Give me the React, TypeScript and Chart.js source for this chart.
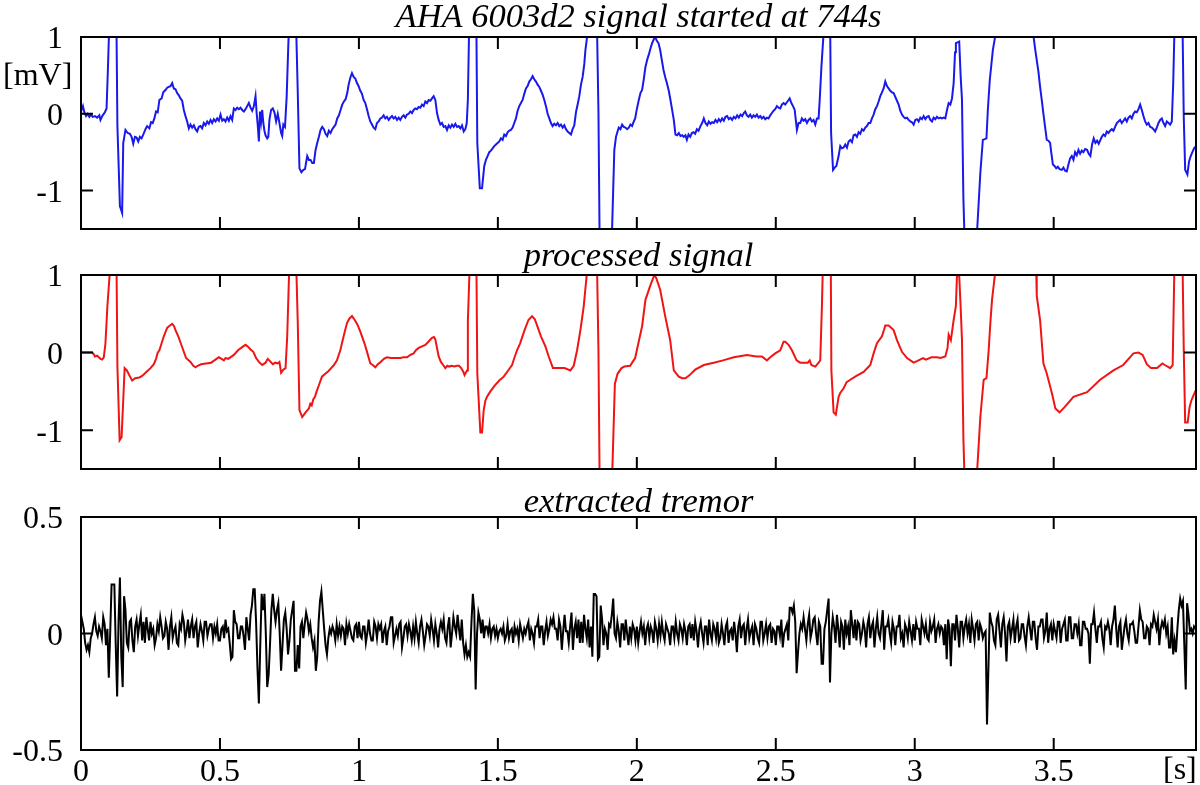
import React, { useEffect, useRef } from 'react';
import { Chart, registerables } from 'chart.js';

Chart.register(...registerables);

// ---------- data ----------
const timeTicks = [0, 0.5, 1, 1.5, 2, 2.5, 3, 3.5];
const ecgTicks = [-1, 0, 1];
const tremorTicks = [-0.5, 0, 0.5];
const timeMax = 4.012;

const rawTitle = 'AHA 6003d2 signal started at 744s';
const cleanTitle = 'processed signal';
const tremorTitle = 'extracted tremor';

// raw ECG [time s, mV]
const rawEcg: [number, number][] = [
  [0,0.03],[0.007,0.1],[0.012,0.02],[0.018,-0.03],[0.024,0.0],[0.03,-0.04],[0.036,-0.01],[0.042,-0.04],[0.05,-0.03],[0.058,-0.05],
  [0.066,-0.02],[0.07,-0.08],[0.078,-0.02],[0.086,0.02],[0.092,0.07],[0.097,0.6],[0.102,1.2],[0.108,2.2],[0.12,2.6],[0.126,1.5],
  [0.128,1.0],[0.131,-0.16],[0.14,-1.2],[0.148,-1.29],[0.152,-0.38],[0.16,-0.21],[0.168,-0.25],[0.176,-0.26],[0.182,-0.3],[0.188,-0.39],
  [0.194,-0.3],[0.2,-0.31],[0.206,-0.36],[0.212,-0.3],[0.218,-0.32],[0.224,-0.27],[0.232,-0.2],[0.238,-0.16],[0.246,-0.19],[0.252,-0.11],
  [0.258,-0.12],[0.264,-0.06],[0.27,0.03],[0.276,0.02],[0.282,0.18],[0.29,0.2],[0.296,0.28],[0.304,0.31],[0.31,0.34],[0.316,0.35],
  [0.322,0.36],[0.328,0.4],[0.334,0.33],[0.34,0.32],[0.346,0.27],[0.352,0.24],[0.358,0.2],[0.364,0.17],[0.37,0.05],[0.376,-0.03],
  [0.382,-0.1],[0.388,-0.19],[0.394,-0.14],[0.4,-0.18],[0.406,-0.15],[0.412,-0.2],[0.418,-0.23],[0.424,-0.17],[0.43,-0.16],[0.436,-0.19],
  [0.442,-0.12],[0.448,-0.15],[0.454,-0.1],[0.46,-0.13],[0.466,-0.08],[0.472,-0.12],[0.478,-0.07],[0.484,-0.1],[0.49,-0.06],[0.496,-0.09],
  [0.502,-0.01],[0.508,-0.09],[0.514,-0.07],[0.52,-0.1],[0.526,-0.05],[0.532,-0.09],[0.538,-0.03],[0.544,-0.08],[0.55,0.07],[0.556,0.05],
  [0.562,0.08],[0.568,0.06],[0.574,0.08],[0.58,0.05],[0.586,0.03],[0.592,0.06],[0.598,0.1],[0.604,0.14],[0.61,0.08],[0.616,0.04],
  [0.622,0.1],[0.628,0.23],[0.632,0.01],[0.636,-0.15],[0.64,-0.36],[0.644,0.03],[0.648,-0.1],[0.652,0.05],[0.656,-0.12],[0.66,-0.22],
  [0.664,-0.28],[0.67,-0.32],[0.674,-0.3],[0.678,-0.08],[0.684,0.05],[0.69,0.07],[0.696,0.02],[0.702,-0.1],[0.708,0.0],[0.714,-0.12],
  [0.72,-0.25],[0.724,-0.29],[0.728,-0.14],[0.734,-0.17],[0.74,0.22],[0.746,0.9],[0.75,1.3],[0.76,2.3],[0.77,1.8],[0.775,1.0],
  [0.78,0.27],[0.786,-0.71],[0.793,-0.76],[0.8,-0.73],[0.806,-0.72],[0.814,-0.55],[0.82,-0.6],[0.826,-0.6],[0.832,-0.64],[0.838,-0.64],
  [0.844,-0.47],[0.85,-0.38],[0.856,-0.3],[0.862,-0.21],[0.868,-0.17],[0.874,-0.2],[0.88,-0.26],[0.886,-0.29],[0.892,-0.22],[0.898,-0.25],
  [0.904,-0.2],[0.91,-0.17],[0.916,-0.14],[0.922,-0.06],[0.928,-0.02],[0.934,0.05],[0.94,0.12],[0.946,0.16],[0.952,0.19],[0.958,0.27],
  [0.963,0.38],[0.969,0.47],[0.975,0.53],[0.981,0.48],[0.987,0.46],[0.993,0.4],[0.999,0.36],[1.005,0.3],[1.011,0.26],[1.017,0.18],
  [1.023,0.14],[1.029,0.06],[1.035,-0.03],[1.041,-0.1],[1.047,-0.14],[1.053,-0.18],[1.059,-0.2],[1.065,-0.12],[1.071,-0.1],[1.077,-0.06],
  [1.083,-0.05],[1.089,-0.02],[1.095,-0.06],[1.101,-0.04],[1.107,-0.08],[1.113,-0.05],[1.119,-0.03],[1.125,-0.06],[1.131,-0.04],[1.137,-0.08],
  [1.143,-0.05],[1.149,-0.08],[1.155,-0.04],[1.161,-0.02],[1.167,-0.05],[1.173,-0.01],[1.179,0.0],[1.185,0.03],[1.191,0.01],[1.197,0.05],
  [1.203,0.07],[1.209,0.06],[1.215,0.09],[1.221,0.08],[1.227,0.12],[1.233,0.1],[1.239,0.16],[1.245,0.14],[1.251,0.18],[1.257,0.17],
  [1.263,0.2],[1.269,0.23],[1.275,0.18],[1.281,0.01],[1.287,-0.08],[1.293,-0.14],[1.299,-0.12],[1.305,-0.17],[1.311,-0.16],[1.317,-0.21],
  [1.323,-0.15],[1.329,-0.18],[1.335,-0.14],[1.341,-0.17],[1.347,-0.13],[1.353,-0.17],[1.359,-0.16],[1.365,-0.19],[1.371,-0.15],[1.377,-0.23],
  [1.383,-0.2],[1.388,-0.12],[1.392,0.18],[1.396,1.0],[1.402,2.0],[1.41,2.4],[1.418,1.6],[1.423,1.0],[1.426,-0.38],[1.435,-0.97],
  [1.443,-0.97],[1.451,-0.68],[1.457,-0.6],[1.463,-0.55],[1.469,-0.5],[1.475,-0.48],[1.481,-0.45],[1.487,-0.42],[1.493,-0.4],[1.499,-0.38],
  [1.505,-0.36],[1.511,-0.32],[1.517,-0.34],[1.523,-0.27],[1.529,-0.29],[1.535,-0.24],[1.541,-0.22],[1.547,-0.21],[1.553,-0.18],[1.559,-0.12],
  [1.565,-0.06],[1.571,0.04],[1.577,0.1],[1.583,0.14],[1.589,0.18],[1.595,0.26],[1.601,0.33],[1.607,0.36],[1.613,0.42],[1.619,0.45],
  [1.625,0.49],[1.631,0.45],[1.637,0.42],[1.643,0.38],[1.649,0.35],[1.655,0.3],[1.661,0.25],[1.667,0.18],[1.673,0.1],[1.679,0.0],
  [1.685,-0.06],[1.691,-0.12],[1.697,-0.16],[1.703,-0.13],[1.709,-0.15],[1.715,-0.12],[1.721,-0.16],[1.727,-0.14],[1.733,-0.18],[1.739,-0.15],
  [1.745,-0.2],[1.751,-0.23],[1.757,-0.25],[1.763,-0.27],[1.769,-0.2],[1.775,-0.15],[1.781,0.02],[1.787,0.12],[1.793,0.23],[1.799,0.38],
  [1.805,0.48],[1.811,0.65],[1.815,0.83],[1.821,1.0],[1.83,2.0],[1.845,2.4],[1.855,1.5],[1.862,0.0],[1.866,-1.6],[1.872,-2.3],
  [1.895,-2.6],[1.907,-2.0],[1.911,-1.5],[1.919,-0.47],[1.925,-0.3],[1.929,-0.25],[1.935,-0.18],[1.941,-0.2],[1.947,-0.14],[1.953,-0.17],
  [1.959,-0.18],[1.965,-0.2],[1.971,-0.18],[1.977,-0.14],[1.983,-0.16],[1.989,-0.1],[1.994,-0.06],[2.0,0.06],[2.007,0.18],[2.013,0.27],
  [2.019,0.31],[2.025,0.45],[2.031,0.61],[2.037,0.7],[2.043,0.77],[2.049,0.85],[2.055,0.92],[2.061,0.97],[2.066,1.0],[2.072,0.95],
  [2.078,0.92],[2.084,0.83],[2.09,0.7],[2.096,0.57],[2.102,0.48],[2.108,0.4],[2.115,0.3],[2.121,0.18],[2.127,0.05],[2.133,-0.08],
  [2.139,-0.27],[2.145,-0.28],[2.151,-0.25],[2.157,-0.29],[2.163,-0.28],[2.169,-0.3],[2.175,-0.28],[2.18,-0.34],[2.186,-0.27],[2.192,-0.3],
  [2.198,-0.25],[2.204,-0.24],[2.21,-0.26],[2.216,-0.2],[2.222,-0.22],[2.229,-0.16],[2.235,-0.12],[2.241,-0.06],[2.247,-0.12],[2.253,-0.15],
  [2.259,-0.1],[2.265,-0.13],[2.271,-0.11],[2.277,-0.12],[2.283,-0.08],[2.289,-0.11],[2.295,-0.07],[2.301,-0.1],[2.307,-0.06],[2.313,-0.09],
  [2.319,-0.04],[2.325,-0.03],[2.331,-0.07],[2.337,-0.05],[2.343,-0.08],[2.349,-0.04],[2.355,-0.06],[2.361,-0.02],[2.367,-0.05],[2.373,-0.01],
  [2.379,-0.03],[2.385,0.01],[2.39,0.03],[2.396,-0.02],[2.402,-0.04],[2.408,-0.01],[2.414,-0.05],[2.42,-0.02],[2.426,-0.04],[2.432,-0.01],
  [2.438,-0.05],[2.444,-0.03],[2.45,-0.06],[2.456,-0.04],[2.462,-0.07],[2.468,-0.05],[2.474,-0.06],[2.48,-0.02],[2.486,0.01],[2.492,0.04],
  [2.498,0.06],[2.504,0.1],[2.51,0.08],[2.516,0.07],[2.522,0.12],[2.528,0.14],[2.534,0.12],[2.54,0.15],[2.546,0.18],[2.55,0.2],
  [2.556,0.14],[2.562,0.1],[2.568,0.05],[2.576,-0.21],[2.582,-0.12],[2.588,-0.12],[2.594,-0.06],[2.6,-0.09],[2.606,-0.07],[2.612,-0.12],
  [2.618,-0.08],[2.624,-0.06],[2.63,-0.1],[2.636,-0.08],[2.642,-0.14],[2.648,-0.06],[2.654,-0.06],[2.658,0.18],[2.664,0.6],[2.672,1.05],
  [2.68,2.2],[2.69,1.8],[2.696,1.0],[2.699,-0.25],[2.706,-0.73],[2.712,-0.7],[2.718,-0.68],[2.726,-0.55],[2.732,-0.42],[2.738,-0.45],
  [2.744,-0.44],[2.75,-0.4],[2.756,-0.44],[2.762,-0.36],[2.768,-0.34],[2.774,-0.37],[2.78,-0.28],[2.786,-0.27],[2.792,-0.3],[2.798,-0.24],
  [2.804,-0.26],[2.81,-0.2],[2.816,-0.22],[2.822,-0.18],[2.828,-0.16],[2.834,-0.12],[2.84,-0.12],[2.846,-0.06],[2.852,-0.01],[2.858,0.06],
  [2.864,0.1],[2.87,0.16],[2.876,0.23],[2.882,0.28],[2.888,0.33],[2.894,0.42],[2.9,0.36],[2.906,0.33],[2.912,0.3],[2.918,0.28],
  [2.924,0.27],[2.93,0.22],[2.936,0.17],[2.942,0.12],[2.948,0.04],[2.954,-0.01],[2.96,-0.04],[2.966,-0.06],[2.972,-0.05],[2.978,-0.08],
  [2.984,-0.1],[2.99,-0.11],[2.996,-0.14],[3.002,-0.08],[3.008,-0.07],[3.014,-0.1],[3.02,-0.05],[3.026,-0.07],[3.032,-0.03],[3.038,-0.07],
  [3.044,-0.04],[3.05,-0.03],[3.056,-0.08],[3.062,-0.1],[3.068,-0.05],[3.074,-0.07],[3.08,-0.04],[3.086,-0.06],[3.092,-0.05],[3.098,-0.06],
  [3.104,-0.05],[3.11,-0.06],[3.116,0.05],[3.122,0.14],[3.128,0.12],[3.134,0.2],[3.14,0.4],[3.145,0.8],[3.148,0.92],[3.154,0.93],
  [3.16,0.94],[3.165,0.5],[3.17,0.18],[3.175,-1.1],[3.179,-1.6],[3.185,-2.3],[3.21,-2.6],[3.22,-2.0],[3.224,-1.55],[3.236,-0.77],
  [3.245,-0.34],[3.252,-0.33],[3.258,-0.32],[3.263,0.05],[3.27,0.44],[3.281,0.83],[3.29,1.02],[3.31,1.8],[3.37,2.3],[3.41,1.8],
  [3.427,1.02],[3.433,0.85],[3.439,0.7],[3.445,0.55],[3.451,0.35],[3.457,0.18],[3.463,0.0],[3.469,-0.17],[3.475,-0.34],[3.481,-0.35],
  [3.487,-0.38],[3.491,-0.5],[3.497,-0.66],[3.503,-0.68],[3.509,-0.71],[3.515,-0.69],[3.521,-0.72],[3.529,-0.73],[3.535,-0.7],[3.541,-0.74],
  [3.547,-0.75],[3.553,-0.66],[3.559,-0.58],[3.565,-0.55],[3.571,-0.6],[3.577,-0.5],[3.583,-0.54],[3.589,-0.47],[3.595,-0.52],[3.601,-0.48],
  [3.607,-0.5],[3.613,-0.46],[3.62,-0.47],[3.626,-0.52],[3.632,-0.55],[3.638,-0.4],[3.644,-0.32],[3.65,-0.38],[3.656,-0.35],[3.662,-0.39],
  [3.667,-0.35],[3.673,-0.3],[3.679,-0.27],[3.685,-0.29],[3.691,-0.23],[3.697,-0.25],[3.703,-0.22],[3.709,-0.2],[3.715,-0.22],[3.721,-0.17],
  [3.727,-0.12],[3.733,-0.1],[3.739,-0.08],[3.745,-0.12],[3.751,-0.09],[3.757,-0.06],[3.763,-0.1],[3.769,-0.05],[3.775,-0.03],[3.781,-0.06],
  [3.787,0.0],[3.793,0.03],[3.799,0.02],[3.805,0.06],[3.811,0.12],[3.817,0.05],[3.823,-0.03],[3.829,-0.1],[3.835,-0.14],[3.841,-0.12],
  [3.847,-0.17],[3.853,-0.18],[3.859,-0.2],[3.865,-0.23],[3.871,-0.18],[3.877,-0.12],[3.883,-0.08],[3.889,-0.06],[3.895,-0.12],[3.901,-0.16],
  [3.907,-0.1],[3.913,-0.12],[3.919,-0.14],[3.925,-0.1],[3.93,0.4],[3.934,1.02],[3.945,2.2],[3.958,1.8],[3.964,1.02],[3.968,-0.05],
  [3.973,-0.73],[3.981,-0.79],[3.987,-0.62],[3.993,-0.55],[3.999,-0.5],[4.005,-0.45],[4.012,-0.42],
];

// processed ECG [time s, mV]
const cleanEcg: [number, number][] = [
  [0,0],[0.04,0],[0.046,-0.02],[0.05,-0.05],[0.058,-0.04],[0.064,-0.06],[0.07,-0.08],[0.076,-0.09],[0.082,-0.06],[0.088,0.12],
  [0.095,0.6],[0.104,1.05],[0.112,2.2],[0.122,2.4],[0.128,1.05],[0.131,-0.18],[0.139,-1.13],[0.146,-1.09],[0.152,-0.61],[0.157,-0.2],
  [0.165,-0.23],[0.175,-0.3],[0.184,-0.36],[0.195,-0.33],[0.21,-0.32],[0.22,-0.3],[0.235,-0.25],[0.25,-0.2],[0.262,-0.15],[0.27,-0.08],
  [0.276,0.0],[0.282,0.03],[0.29,0.12],[0.298,0.21],[0.31,0.32],[0.32,0.35],[0.328,0.37],[0.335,0.34],[0.34,0.29],[0.35,0.21],
  [0.358,0.13],[0.368,0.03],[0.378,-0.07],[0.394,-0.12],[0.404,-0.17],[0.412,-0.19],[0.42,-0.17],[0.432,-0.15],[0.45,-0.14],[0.468,-0.13],
  [0.48,-0.1],[0.496,-0.06],[0.506,-0.08],[0.514,-0.1],[0.52,-0.07],[0.53,-0.08],[0.55,-0.03],[0.565,0.03],[0.58,0.07],[0.592,0.1],
  [0.6,0.08],[0.61,0.04],[0.62,0.01],[0.63,-0.07],[0.64,-0.12],[0.652,-0.16],[0.664,-0.13],[0.672,-0.08],[0.68,-0.11],[0.69,-0.15],
  [0.7,-0.13],[0.708,-0.14],[0.714,-0.12],[0.72,-0.26],[0.728,-0.22],[0.736,-0.2],[0.742,0.21],[0.749,1.05],[0.755,2.2],[0.768,2.3],
  [0.775,1.05],[0.78,0.38],[0.786,-0.74],[0.796,-0.83],[0.806,-0.78],[0.815,-0.74],[0.82,-0.72],[0.825,-0.66],[0.83,-0.68],[0.836,-0.6],
  [0.842,-0.57],[0.847,-0.51],[0.855,-0.43],[0.867,-0.31],[0.88,-0.27],[0.89,-0.24],[0.9,-0.2],[0.91,-0.16],[0.921,-0.1],[0.933,0.03],
  [0.945,0.21],[0.957,0.38],[0.966,0.44],[0.975,0.47],[0.985,0.42],[0.995,0.36],[1.005,0.27],[1.02,0.12],[1.03,0.0],[1.041,-0.14],
  [1.05,-0.16],[1.059,-0.19],[1.068,-0.15],[1.078,-0.12],[1.09,-0.08],[1.101,-0.06],[1.115,-0.07],[1.13,-0.07],[1.149,-0.07],[1.16,-0.06],
  [1.173,-0.06],[1.185,-0.03],[1.197,-0.01],[1.205,0.03],[1.215,0.06],[1.227,0.08],[1.239,0.1],[1.25,0.14],[1.263,0.19],[1.27,0.2],
  [1.275,0.17],[1.281,0.06],[1.287,-0.05],[1.295,-0.12],[1.303,-0.16],[1.311,-0.2],[1.318,-0.17],[1.325,-0.18],[1.333,-0.17],[1.343,-0.18],
  [1.353,-0.17],[1.36,-0.17],[1.368,-0.2],[1.376,-0.25],[1.38,-0.29],[1.389,-0.23],[1.392,0.4],[1.398,1.05],[1.405,2.2],[1.418,2.3],
  [1.423,1.05],[1.426,-0.27],[1.437,-1.03],[1.443,-1.03],[1.449,-0.74],[1.455,-0.62],[1.461,-0.57],[1.473,-0.5],[1.49,-0.42],[1.505,-0.36],
  [1.521,-0.31],[1.535,-0.24],[1.551,-0.16],[1.56,-0.06],[1.569,0.03],[1.58,0.12],[1.596,0.29],[1.61,0.42],[1.623,0.47],[1.633,0.43],
  [1.647,0.29],[1.655,0.21],[1.671,0.08],[1.683,-0.05],[1.698,-0.2],[1.72,-0.2],[1.74,-0.2],[1.761,-0.23],[1.773,-0.17],[1.785,0.03],
  [1.797,0.29],[1.809,0.6],[1.817,0.9],[1.821,1.05],[1.83,2.2],[1.845,2.4],[1.855,1.5],[1.862,0.0],[1.866,-1.6],[1.872,-2.3],
  [1.895,-2.6],[1.907,-2.0],[1.912,-1.5],[1.921,-0.4],[1.931,-0.27],[1.945,-0.2],[1.955,-0.18],[1.976,-0.17],[1.985,-0.12],[1.994,-0.07],
  [2.0,0.03],[2.019,0.34],[2.031,0.68],[2.048,0.86],[2.063,1.0],[2.07,0.96],[2.084,0.81],[2.102,0.47],[2.12,0.16],[2.133,-0.23],
  [2.151,-0.31],[2.163,-0.33],[2.175,-0.33],[2.19,-0.29],[2.21,-0.22],[2.241,-0.16],[2.277,-0.13],[2.31,-0.1],[2.349,-0.06],[2.396,-0.03],
  [2.43,-0.05],[2.45,-0.05],[2.468,-0.1],[2.48,-0.06],[2.498,-0.01],[2.516,0.03],[2.528,0.14],[2.534,0.14],[2.546,0.1],[2.558,0.03],
  [2.575,-0.1],[2.588,-0.13],[2.6,-0.13],[2.615,-0.13],[2.622,-0.1],[2.628,-0.16],[2.642,-0.18],[2.652,-0.14],[2.66,-0.1],[2.666,0.6],
  [2.669,1.05],[2.68,2.2],[2.692,2.0],[2.698,1.05],[2.7,-0.23],[2.708,-0.77],[2.716,-0.8],[2.726,-0.57],[2.732,-0.52],[2.744,-0.46],
  [2.755,-0.38],[2.768,-0.35],[2.79,-0.3],[2.816,-0.25],[2.84,-0.16],[2.852,-0.01],[2.864,0.12],[2.882,0.21],[2.89,0.3],[2.894,0.35],
  [2.906,0.35],[2.924,0.29],[2.936,0.16],[2.954,0.01],[2.972,-0.07],[2.996,-0.13],[3.008,-0.11],[3.03,-0.07],[3.04,-0.09],[3.06,-0.06],
  [3.08,-0.06],[3.092,-0.07],[3.11,-0.05],[3.118,0.06],[3.122,0.23],[3.13,0.16],[3.14,0.42],[3.148,0.6],[3.152,1.0],[3.16,0.99],
  [3.165,0.6],[3.17,0.16],[3.175,-1.1],[3.179,-1.6],[3.185,-2.3],[3.21,-2.6],[3.22,-2.0],[3.224,-1.55],[3.236,-0.83],[3.248,-0.35],
  [3.258,-0.33],[3.266,0.03],[3.272,0.38],[3.278,0.68],[3.29,1.05],[3.31,1.8],[3.37,2.3],[3.41,1.8],[3.437,1.05],[3.439,0.73],
  [3.451,0.42],[3.463,-0.14],[3.475,-0.27],[3.494,-0.53],[3.506,-0.72],[3.521,-0.77],[3.54,-0.7],[3.571,-0.57],[3.62,-0.51],[3.667,-0.35],
  [3.715,-0.23],[3.75,-0.16],[3.787,-0.01],[3.805,0.0],[3.82,-0.03],[3.835,-0.15],[3.85,-0.2],[3.872,-0.2],[3.891,-0.14],[3.9,-0.16],
  [3.919,-0.2],[3.928,-0.16],[3.934,1.05],[3.945,2.2],[3.958,2.0],[3.964,1.05],[3.968,0.03],[3.973,-0.9],[3.982,-0.9],[3.989,-0.7],
  [3.995,-0.62],[4.003,-0.55],[4.012,-0.48],
];

// extracted tremor, sampled every 5 ms from t = 0 (mV); one row = 0.1 s
const tremorStep = 0.005;
const tremorValues: number[] = [
  0.08, 0.05, 0.02, -0.04, -0.07, -0.05, -0.08, -0.02, 0.0, 0.04, 0.07, 0.01, -0.01, 0.03, 0.01, -0.02, 0.07, 0.04, -0.05, 0.02,
  -0.19, 0.0, 0.21, 0.21, 0.21, -0.05, -0.27, 0.05, 0.24, -0.1, -0.23, 0.16, 0.1, -0.04, -0.06, 0.05, 0.06, -0.03, -0.08, 0.03,
  0.06, -0.01, 0.04, 0.08, -0.03, 0.05, -0.04, 0.07, 0.02, -0.03, 0.05, 0.0, 0.02, -0.05, -0.02, 0.04, 0.01, 0.07, 0.03, -0.02,
  -0.01, 0.05, 0.02, -0.07, 0.03, 0.07, -0.02, 0.01, 0.03, -0.04, -0.05, 0.04, 0.02, 0.08, 0.05, -0.03, 0.01, 0.06, -0.02, 0.03,
  0.06, -0.02, 0.03, 0.05, -0.06, 0.0, 0.04, 0.01, -0.03, 0.05, 0.05, -0.01, 0.02, 0.04, 0.04, -0.02, 0.03, 0.0, 0.04, -0.03,
  -0.03, 0.02, 0.03, -0.02, 0.06, 0.01, 0.02, -0.04, -0.11, -0.1, 0.1, 0.05, 0.04, -0.02, -0.02, 0.03, 0.03, -0.01, -0.07, 0.07,
  0.02, -0.03, 0.08, 0.12, 0.19, 0.19, 0.05, -0.15, -0.3, -0.05, 0.17, 0.1, 0.17, 0.0, -0.23, -0.18, -0.05, 0.1, 0.17, 0.1,
  0.05, 0.1, 0.13, 0.0, -0.16, -0.05, 0.06, 0.09, 0.02, -0.09, -0.03, 0.06, 0.1, 0.14, -0.16, -0.16, -0.05, -0.15, 0.03, 0.05,
  -0.02, 0.04, 0.09, 0.06, 0.01, 0.04, -0.02, -0.06, -0.03, -0.16, -0.1, 0.05, 0.14, 0.18, 0.1, 0.02, -0.05, -0.09, -0.02, 0.02,
  0.0, 0.03, 0.01, -0.03, 0.04, -0.01, 0.03, -0.01, 0.03, 0.02, -0.05, 0.04, 0.0, 0.04, 0.01, -0.02, -0.03, 0.03, 0.04, -0.02,
  0.05, -0.01, -0.02, 0.03, 0.03, -0.04, 0.0, 0.06, 0.0, -0.03, -0.03, 0.05, 0.03, -0.02, 0.04, 0.02, 0.04, -0.04, 0.01, 0.03,
  -0.05, 0.01, 0.03, 0.07, 0.07, -0.04, -0.01, 0.02, -0.01, 0.04, 0.05, -0.06, -0.02, 0.03, 0.04, -0.01, 0.04, 0.01, -0.03, 0.03,
  -0.02, 0.05, 0.0, -0.04, 0.03, 0.06, 0.01, -0.05, -0.01, 0.04, 0.03, -0.01, 0.06, 0.02, -0.03, 0.04, 0.0, -0.06, 0.02, 0.05,
  0.02, 0.06, -0.02, -0.04, 0.03, 0.07, -0.06, 0.0, 0.07, 0.03, 0.0, 0.08, 0.02, -0.03, 0.06, -0.04, -0.09, -0.05, -0.1, -0.08,
  -0.1, 0.05, 0.17, 0.1, -0.24, 0.0, 0.09, 0.06, 0.0, 0.06, -0.02, 0.03, 0.03, 0.0, 0.04, -0.02, 0.02, 0.03, -0.01, 0.02,
  -0.02, 0.01, 0.02, 0.0, 0.03, -0.03, -0.01, 0.04, -0.02, 0.01, 0.02, -0.04, 0.03, 0.0, 0.02, -0.03, 0.04, 0.01, -0.02, 0.02,
  0.0, 0.03, 0.05, -0.03, 0.02, 0.0, -0.04, 0.03, 0.03, 0.06, -0.02, 0.03, 0.03, -0.05, 0.01, 0.05, -0.01, 0.02, 0.06, 0.04,
  0.07, 0.02, 0.02, -0.03, 0.06, 0.03, -0.07, 0.01, 0.08, 0.01, 0.01, -0.04, 0.03, 0.09, -0.07, 0.02, 0.05, -0.02, 0.06, -0.04,
  0.05, -0.04, 0.08, 0.02, -0.02, 0.06, -0.06, 0.03, -0.1, 0.17, 0.17, 0.16, -0.11, -0.1, 0.12, 0.06, -0.05, 0.02, 0.0, -0.07,
  0.04, 0.03, 0.08, 0.15, 0.0, -0.02, 0.05, 0.01, -0.06, 0.04, 0.04, -0.03, 0.06, 0.0, -0.05, 0.03, -0.02, 0.04, 0.02, -0.03,
  0.03, -0.04, 0.01, 0.05, 0.0, 0.03, -0.05, 0.02, 0.04, -0.02, 0.03, 0.01, -0.04, 0.05, 0.02, -0.03, 0.04, -0.01, 0.05, 0.0,
  -0.03, 0.04, 0.02, 0.0, -0.05, 0.03, 0.03, -0.02, 0.05, 0.0, -0.03, 0.04, 0.02, -0.02, 0.04, 0.01, -0.05, 0.03, 0.04, -0.02,
  0.04, -0.03, 0.05, 0.01, -0.06, 0.02, 0.05, 0.0, -0.04, 0.03, 0.03, -0.05, 0.06, 0.0, -0.03, 0.04, 0.02, -0.02, 0.05, -0.04,
  -0.02, 0.04, 0.0, -0.05, 0.03, 0.05, -0.04, 0.01, 0.02, -0.03, 0.05, 0.0, -0.08, 0.03, 0.06, -0.02, 0.03, 0.04, -0.05, 0.02,
  0.06, -0.02, 0.01, 0.03, -0.05, 0.04, 0.02, -0.02, -0.04, 0.05, 0.05, -0.03, 0.0, 0.04, -0.02, 0.03, 0.04, -0.04, 0.02, 0.01,
  -0.05, 0.03, 0.03, -0.01, 0.06, -0.06, 0.0, 0.02, 0.04, -0.03, 0.11, 0.11, 0.09, 0.12, 0.05, -0.17, -0.08, 0.0, 0.04, 0.02,
  0.07, 0.02, -0.03, 0.04, 0.08, -0.02, 0.01, 0.06, 0.07, 0.0, -0.05, 0.05, 0.03, -0.13, -0.13, 0.02, 0.05, 0.1, 0.15, -0.21,
  0.0, 0.07, 0.03, -0.04, 0.08, 0.02, -0.06, 0.05, 0.03, -0.07, 0.06, 0.0, 0.03, -0.05, 0.1, 0.04, -0.02, 0.06, -0.03, 0.05,
  0.04, -0.03, 0.0, 0.05, 0.02, -0.06, 0.04, 0.07, -0.02, 0.03, 0.05, -0.06, 0.02, 0.07, 0.0, -0.02, 0.04, 0.1, -0.07, 0.03,
  0.03, 0.06, 0.0, -0.04, 0.05, 0.02, -0.05, 0.03, 0.03, 0.08, -0.02, 0.0, -0.06, 0.04, 0.02, -0.02, 0.05, 0.01, -0.03, 0.04,
  -0.03, 0.05, 0.02, 0.02, -0.05, 0.06, 0.03, 0.0, 0.04, -0.02, -0.03, 0.05, 0.01, 0.03, 0.06, -0.04, 0.02, 0.04, 0.0, 0.03,
  0.02, -0.05, 0.04, -0.11, 0.06, 0.02, -0.14, 0.04, 0.04, -0.03, 0.08, 0.02, -0.06, 0.05, 0.05, -0.02, 0.03, 0.06, 0.0, 0.04,
  -0.04, 0.06, 0.02, -0.03, 0.04, 0.05, -0.03, 0.04, 0.02, -0.02, 0.0, 0.01, -0.39, -0.15, 0.09, 0.05, 0.03, -0.03, -0.05, 0.06,
  0.08, 0.01, -0.06, 0.04, 0.07, 0.0, -0.12, 0.03, 0.05, -0.02, 0.02, 0.06, -0.04, 0.03, 0.06, -0.03, -0.02, 0.04, 0.04, -0.01,
  -0.05, 0.03, 0.07, 0.02, -0.03, 0.05, 0.05, -0.02, -0.07, 0.03, 0.03, 0.06, 0.06, -0.02, 0.01, 0.09, -0.04, 0.02, 0.04, -0.03,
  0.04, 0.01, -0.02, 0.05, 0.05, -0.04, 0.02, 0.04, 0.06, -0.03, -0.03, 0.07, 0.07, -0.02, -0.02, 0.04, 0.04, 0.0, 0.04, -0.05,
  -0.05, 0.05, 0.05, 0.02, 0.02, 0.0, -0.13, 0.04, 0.04, 0.09, 0.02, -0.04, 0.03, 0.03, 0.05, -0.02, -0.06, 0.03, 0.02, 0.05,
  0.02, -0.05, 0.03, 0.06, 0.12, 0.02, -0.06, 0.03, 0.05, -0.07, -0.02, 0.03, 0.06, 0.0, -0.03, 0.04, 0.04, 0.05, 0.01, -0.04,
  -0.04, 0.03, 0.1, 0.06, 0.05, -0.02, -0.02, 0.03, 0.02, -0.05, 0.04, 0.03, 0.08, 0.05, 0.02, 0.06, -0.05, 0.02, 0.05, 0.03,
  0.06, 0.0, 0.03, -0.06, -0.06, 0.07, -0.09, -0.03, -0.08, 0.02, 0.1, 0.15, 0.12, 0.14, -0.05, -0.24, 0.13, 0.08, 0.01, 0.02,
  0.0, 0.03, 0.02,
];

// ---------- styling ----------
const SERIF = '"Liberation Serif", "Times New Roman", serif';
const TICK_LEN = 12;

const framePlugin = {
  id: 'frame',
  afterDatasetsDraw(chart: any, _args: any, opts: any) {
    const { ctx, chartArea: a, scales } = chart;
    const xs = scales.x;
    const ys = scales.y;
    ctx.save();
    ctx.strokeStyle = '#000';
    ctx.lineWidth = 2;
    ctx.beginPath();
    for (const v of timeTicks) {
      const px = xs.getPixelForValue(v);
      ctx.moveTo(px, a.top);
      ctx.lineTo(px, a.top + TICK_LEN);
      ctx.moveTo(px, a.bottom);
      ctx.lineTo(px, a.bottom - TICK_LEN);
    }
    for (const v of opts.yTicks as number[]) {
      const py = ys.getPixelForValue(v);
      ctx.moveTo(a.left, py);
      ctx.lineTo(a.left + TICK_LEN, py);
      ctx.moveTo(a.right, py);
      ctx.lineTo(a.right - TICK_LEN, py);
    }
    ctx.stroke();
    ctx.strokeRect(a.left, a.top, a.right - a.left, a.bottom - a.top);

    ctx.fillStyle = '#000';
    ctx.font = `italic 34.5px ${SERIF}`;
    ctx.textAlign = 'center';
    ctx.textBaseline = 'alphabetic';
    ctx.fillText(opts.title, (a.left + a.right) / 2, a.top - opts.titleGap);

    ctx.font = `32px ${SERIF}`;
    ctx.textAlign = 'left';
    for (const lab of (opts.labels || [])) {
      ctx.fillText(lab.text, lab.x, lab.y);
    }
    ctx.restore();
  },
};

type PanelProps = {
  top: number;
  height: number;
  padTop: number;
  padBottom: number;
  points: { x: number; y: number }[];
  color: string;
  yMin: number;
  yMax: number;
  yTicks: number[];
  title: string;
  titleGap: number;
  showX: boolean;
  labels?: { text: string; x: number; y: number }[];
};

function Panel(p: PanelProps) {
  const ref = useRef<HTMLCanvasElement | null>(null);
  useEffect(() => {
    if (!ref.current) return;
    const chart = new Chart(ref.current, {
      type: 'line',
      data: {
        datasets: [
          {
            data: p.points,
            borderColor: p.color,
            borderWidth: 2,
            pointRadius: 0,
            tension: 0,
            fill: false,
          },
        ],
      },
      options: {
        responsive: false,
        animation: false,
        events: [],
        layout: { padding: { left: 0, right: 4, top: p.padTop, bottom: p.padBottom } },
        plugins: {
          legend: { display: false },
          tooltip: { enabled: false },
          frame: { yTicks: p.yTicks, title: p.title, titleGap: p.titleGap, labels: p.labels },
        } as any,
        scales: {
          x: {
            type: 'linear',
            min: 0,
            max: timeMax,
            display: p.showX,
            grid: { display: false },
            border: { display: false },
            afterBuildTicks: (axis: any) => {
              axis.ticks = timeTicks.map((v) => ({ value: v }));
            },
            afterFit: (axis: any) => {
              axis.height = p.showX ? 35 : 0;
              axis.paddingLeft = 0;
              axis.paddingRight = 0;
            },
            ticks: {
              color: '#000',
              font: { family: SERIF, size: 32 },
              padding: -5,
              maxRotation: 0,
              autoSkip: false,
              callback: (v: any) => String(v),
            },
          },
          y: {
            type: 'linear',
            min: p.yMin,
            max: p.yMax,
            grid: { display: false },
            border: { display: false },
            afterBuildTicks: (axis: any) => {
              axis.ticks = p.yTicks.map((v) => ({ value: v }));
            },
            afterFit: (axis: any) => {
              axis.width = 81;
              axis.paddingTop = 0;
              axis.paddingBottom = 0;
            },
            ticks: {
              color: '#000',
              font: { family: SERIF, size: 32 },
              padding: 10,
              labelOffset: 3,
              callback: (v: any) => String(v),
            },
          },
        },
      } as any,
      plugins: [framePlugin],
    });
    return () => chart.destroy();
  }, []);
  return (
    <canvas
      ref={ref}
      width={1200}
      height={p.height}
      style={{ position: 'absolute', left: 0, top: p.top, width: 1200, height: p.height }}
    />
  );
}

export default function App() {
  const rawPoints = rawEcg.map(([x, y]) => ({ x, y }));
  const cleanPoints = cleanEcg.map(([x, y]) => ({ x, y }));
  const tremorPoints = tremorValues.map((y, i) => ({ x: i * tremorStep, y }));
  return (
    <div style={{ position: 'fixed', left: 0, top: 0, width: 1200, height: 785, background: '#fff' }}>
      <Panel
        top={0}
        height={240}
        padTop={37}
        padBottom={11}
        points={rawPoints}
        color="rgb(25,25,235)"
        yMin={-1.5}
        yMax={1}
        yTicks={ecgTicks}
        title={rawTitle}
        titleGap={10}
        showX={false}
        labels={[{ text: '[mV]', x: 3, y: 85 }]}
      />
      <Panel
        top={240}
        height={240}
        padTop={35}
        padBottom={11}
        points={cleanPoints}
        color="rgb(240,20,20)"
        yMin={-1.5}
        yMax={1}
        yTicks={ecgTicks}
        title={cleanTitle}
        titleGap={9}
        showX={false}
      />
      <Panel
        top={480}
        height={305}
        padTop={37}
        padBottom={0}
        points={tremorPoints}
        color="#000"
        yMin={-0.5}
        yMax={0.5}
        yTicks={tremorTicks}
        title={tremorTitle}
        titleGap={5}
        showX={true}
        labels={[{ text: '[s]', x: 1163, y: 299 }]}
      />
    </div>
  );
}
